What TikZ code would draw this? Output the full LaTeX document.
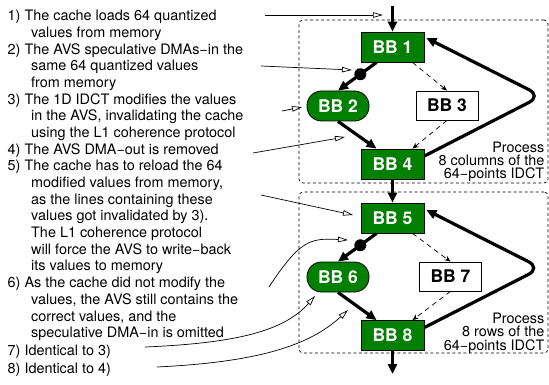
\documentclass[tikz,border=0pt]{standalone}
\usepackage{fontspec}
\setmainfont{TeX Gyre Heros}
\usetikzlibrary{arrows.meta,calc}
\definecolor{bbgreen}{RGB}{0,128,0}

\begin{document}
\begin{tikzpicture}[x=1pt,y=-1pt,
  bb/.style={draw=black, line width=0.8pt, fill=bbgreen, text=white,
    font=\fontsize{17.5}{20}\selectfont\bfseries,
    minimum width=63pt, minimum height=30pt, inner sep=0pt},
  bbplain/.style={bb, fill=white, text=black, minimum width=62pt, minimum height=29pt},
  bbround/.style={bb, rounded corners=14.5pt, minimum width=62pt},
  flow/.style={line width=3.2pt, -{Triangle[length=10pt,width=9pt]}},
  maybe/.style={line width=0.7pt, dash pattern=on 5pt off 4pt,
    -{Stealth[length=6pt,width=5pt]}},
  forkdot/.style={circle, fill=black, inner sep=0pt, minimum size=12pt},
  note/.style={line width=0.7pt, -{Triangle[open,length=10pt,width=5.5pt]}},
  notetext/.style={anchor=north west, align=left, inner sep=0pt,
    font=\fontsize{14.4}{16.7}\selectfont},
  frame/.style={draw, line width=0.7pt, dash pattern=on 3pt off 2.5pt,
    rounded corners=4pt, minimum width=249pt, inner sep=0pt},
  caption/.style={anchor=north east, align=right, inner sep=0pt,
    font=\fontsize{14.4}{13.3}\selectfont}
]
\useasboundingbox (0,0) rectangle (549,385);

% dashed frames around the two loops
\node[frame, minimum height=163pt] (frame1) at (423.5,101.5) {};
\node[frame, minimum height=161pt] (frame2) at (423.5,272.5) {};

% basic blocks
\node[bb]      (bb1) at (392.5,47)    {BB 1};
\node[bbround] (bb2) at (338,106)     {BB 2};
\node[bbplain] (bb3) at (447,105.5)   {BB 3};
\node[bb]      (bb4) at (392.5,164)   {BB 4};
\node[bb]      (bb5) at (392.5,218)   {BB 5};
\node[bbround] (bb6) at (338,277)     {BB 6};
\node[bbplain] (bb7) at (450.5,276.5) {BB 7};
\node[bb]      (bb8) at (392.5,335.5) {BB 8};

% loop captions
\node[caption] (cap1) at (544.5,141.6) {Process\\8 columns of the\\64−points IDCT};
\node[caption] (cap2) at (544.5,312.9) {Process\\8 rows of the\\64−points IDCT};

% control flow
\coordinate (entry) at (392.5,6);
\coordinate (exit)  at (392.5,374);
\draw[flow] (entry) -- (bb1.north);
\draw[flow] ($(bb1.south)+(-16,0)$) -- node[forkdot, pos=0.42] (fork1) {} (bb2.north);
\draw[maybe] ($(bb1.south)+(20,0)$) -- (bb3.north);
\draw[maybe] (bb3.south) -- ($(bb4.north)+(20,0)$);
\draw[flow] (bb2.south) -- ($(bb4.north)+(-16,0)$);
\draw[flow, rounded corners=14pt] ($(bb4.east)+(0,-8)$) -- (541.5,96) -- ($(bb1.east)+(2,-9)$);
\draw[flow] (bb4.south) -- (bb5.north);
\draw[flow] ($(bb5.south)+(-16,0)$) -- node[forkdot, pos=0.42] (fork2) {} (bb6.north);
\draw[maybe] ($(bb5.south)+(20,0)$) -- (bb7.north);
\draw[maybe] (bb7.south) -- ($(bb8.north)+(20,0)$);
\draw[flow] (bb6.south) -- ($(bb8.north)+(-16,0)$);
\draw[flow, rounded corners=14pt] ($(bb8.east)+(0,-8)$) -- (541,268) -- ($(bb5.east)+(2,-8)$);
\draw[flow] (bb8.south) -- (exit);

% notes
\node[notetext] (n1) at (7.5,9.7) {1) The cache loads 64 quantized\\\hspace*{23.5pt}values from memory};
\node[notetext] (n2) at (7.5,43.1) {2) The AVS speculative DMAs−in the\\\hspace*{23.5pt}same 64 quantized values\\\hspace*{23.5pt}from memory};
\node[notetext] (n3) at (7.5,93.2) {3) The 1D IDCT modifies the values\\\hspace*{23.5pt}in the AVS, invalidating the cache\\\hspace*{23.5pt}using the L1 coherence protocol};
\node[notetext] (n4) at (7.5,143.3) {4) The AVS DMA−out is removed};
\node[notetext] (n5) at (7.5,160) {5) The cache has to reload the 64\\\hspace*{23.5pt}modified values from memory,\\\hspace*{23.5pt}as the lines containing these\\\hspace*{23.5pt}values got invalidated by 3).\\\hspace*{23.5pt}The L1 coherence protocol\\\hspace*{23.5pt}will force the AVS to write−back\\\hspace*{23.5pt}its values to memory};
\node[notetext] (n6) at (7.5,276.9) {6) As the cache did not modify the\\\hspace*{23.5pt}values, the AVS still contains the\\\hspace*{23.5pt}correct values, and the\\\hspace*{23.5pt}speculative DMA−in is omitted};
\node[notetext] (n7) at (7.5,344.7) {7) Identical to 3)};
\node[notetext] (n8) at (7.5,362.7) {8) Identical to 4)};

% note pointers
\coordinate (s1) at (265,15);   \coordinate (t1) at (383,15);
\coordinate (s2) at (261,66);   \coordinate (t2) at (352,70);
\coordinate (s3) at (282,111);  \coordinate (t3) at (302,107);
\coordinate (s4) at (253,153);  \coordinate (t4) at (345,137);
\coordinate (s5) at (261,195);  \coordinate (t5) at (353,215);
\coordinate (s6) at (269,287);  \coordinate (t6) at (348,240);
\coordinate (s7) at (145,347);  \coordinate (t7) at (315,296);
\coordinate (s8) at (157,367);  \coordinate (t8) at (348,310);
\draw[note] (s1) -- (t1);
\draw[note] (s2) -- (t2);
\draw[note] (s3) -- (t3);
\draw[note] (s4) -- (t4);
\draw[note] (s5) -- (t5);
\draw[note] (s6) .. controls (300,240) and (310,238) .. (t6);
\draw[note] (s7) .. controls (240,343) and (285,330) .. (t7);
\draw[note] (s8) .. controls (260,362) and (310,345) .. (t8);
\end{tikzpicture}
\end{document}
